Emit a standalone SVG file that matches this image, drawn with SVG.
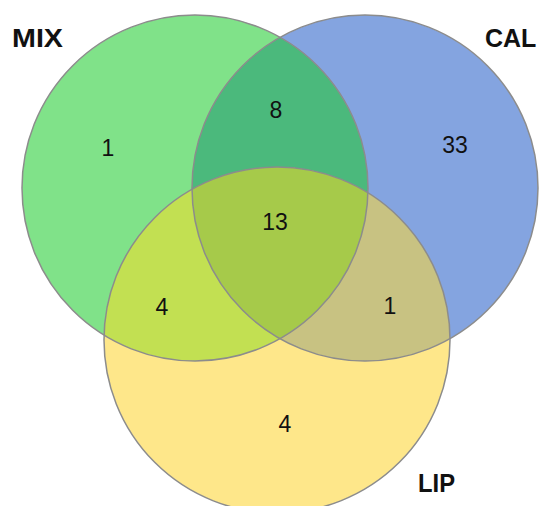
<svg xmlns="http://www.w3.org/2000/svg" width="539" height="506" viewBox="0 0 539 506">
  <style>
    .lbl { font-family: "Liberation Sans", Arial, sans-serif; font-weight: bold; font-size: 26px; fill: #111; }
    .num { font-family: "Liberation Sans", Arial, sans-serif; font-size: 23px; fill: #111; text-anchor: middle; }
    .edge { fill: none; stroke: #8c8c8c; stroke-width: 1.5; }
  </style>
  <defs>
    <circle id="cG" cx="195" cy="188" r="173"/>
    <circle id="cB" cx="365" cy="188" r="173"/>
    <circle id="cY" cx="277" cy="340" r="173"/>
    <clipPath id="clipG"><use href="#cG"/></clipPath>
    <clipPath id="clipB"><use href="#cB"/></clipPath>
  </defs>
  <rect width="539" height="506" fill="#ffffff"/>
  <g id="regions">
    <use href="#cG" fill="#80E289"/>
    <use href="#cB" fill="#84A4E0"/>
    <use href="#cY" fill="#FEE78A"/>
    <use href="#cB" fill="#4BB97C" clip-path="url(#clipG)"/>
    <use href="#cY" fill="#C2E052" clip-path="url(#clipG)"/>
    <use href="#cY" fill="#C8C282" clip-path="url(#clipB)"/>
    <g clip-path="url(#clipB)">
      <use href="#cY" fill="#A6CA4A" clip-path="url(#clipG)"/>
    </g>
  </g>
  <g id="connectors"></g>
  <g id="MIX">
    <use href="#cG" class="edge"/>
    <text class="lbl" x="12" y="47" textLength="51" lengthAdjust="spacingAndGlyphs">MIX</text>
  </g>
  <g id="CAL">
    <use href="#cB" class="edge"/>
    <text class="lbl" x="485" y="47" style="font-size:25px">CAL</text>
  </g>
  <g id="LIP">
    <use href="#cY" class="edge"/>
    <text class="lbl" x="418" y="492" textLength="37" lengthAdjust="spacingAndGlyphs">LIP</text>
  </g>
  <g id="counts">
    <text class="num" x="108" y="156">1</text>
    <text class="num" x="276" y="118">8</text>
    <text class="num" x="455" y="153">33</text>
    <text class="num" x="275" y="230">13</text>
    <text class="num" x="162" y="315">4</text>
    <text class="num" x="390" y="314">1</text>
    <text class="num" x="285" y="432">4</text>
  </g>
</svg>
